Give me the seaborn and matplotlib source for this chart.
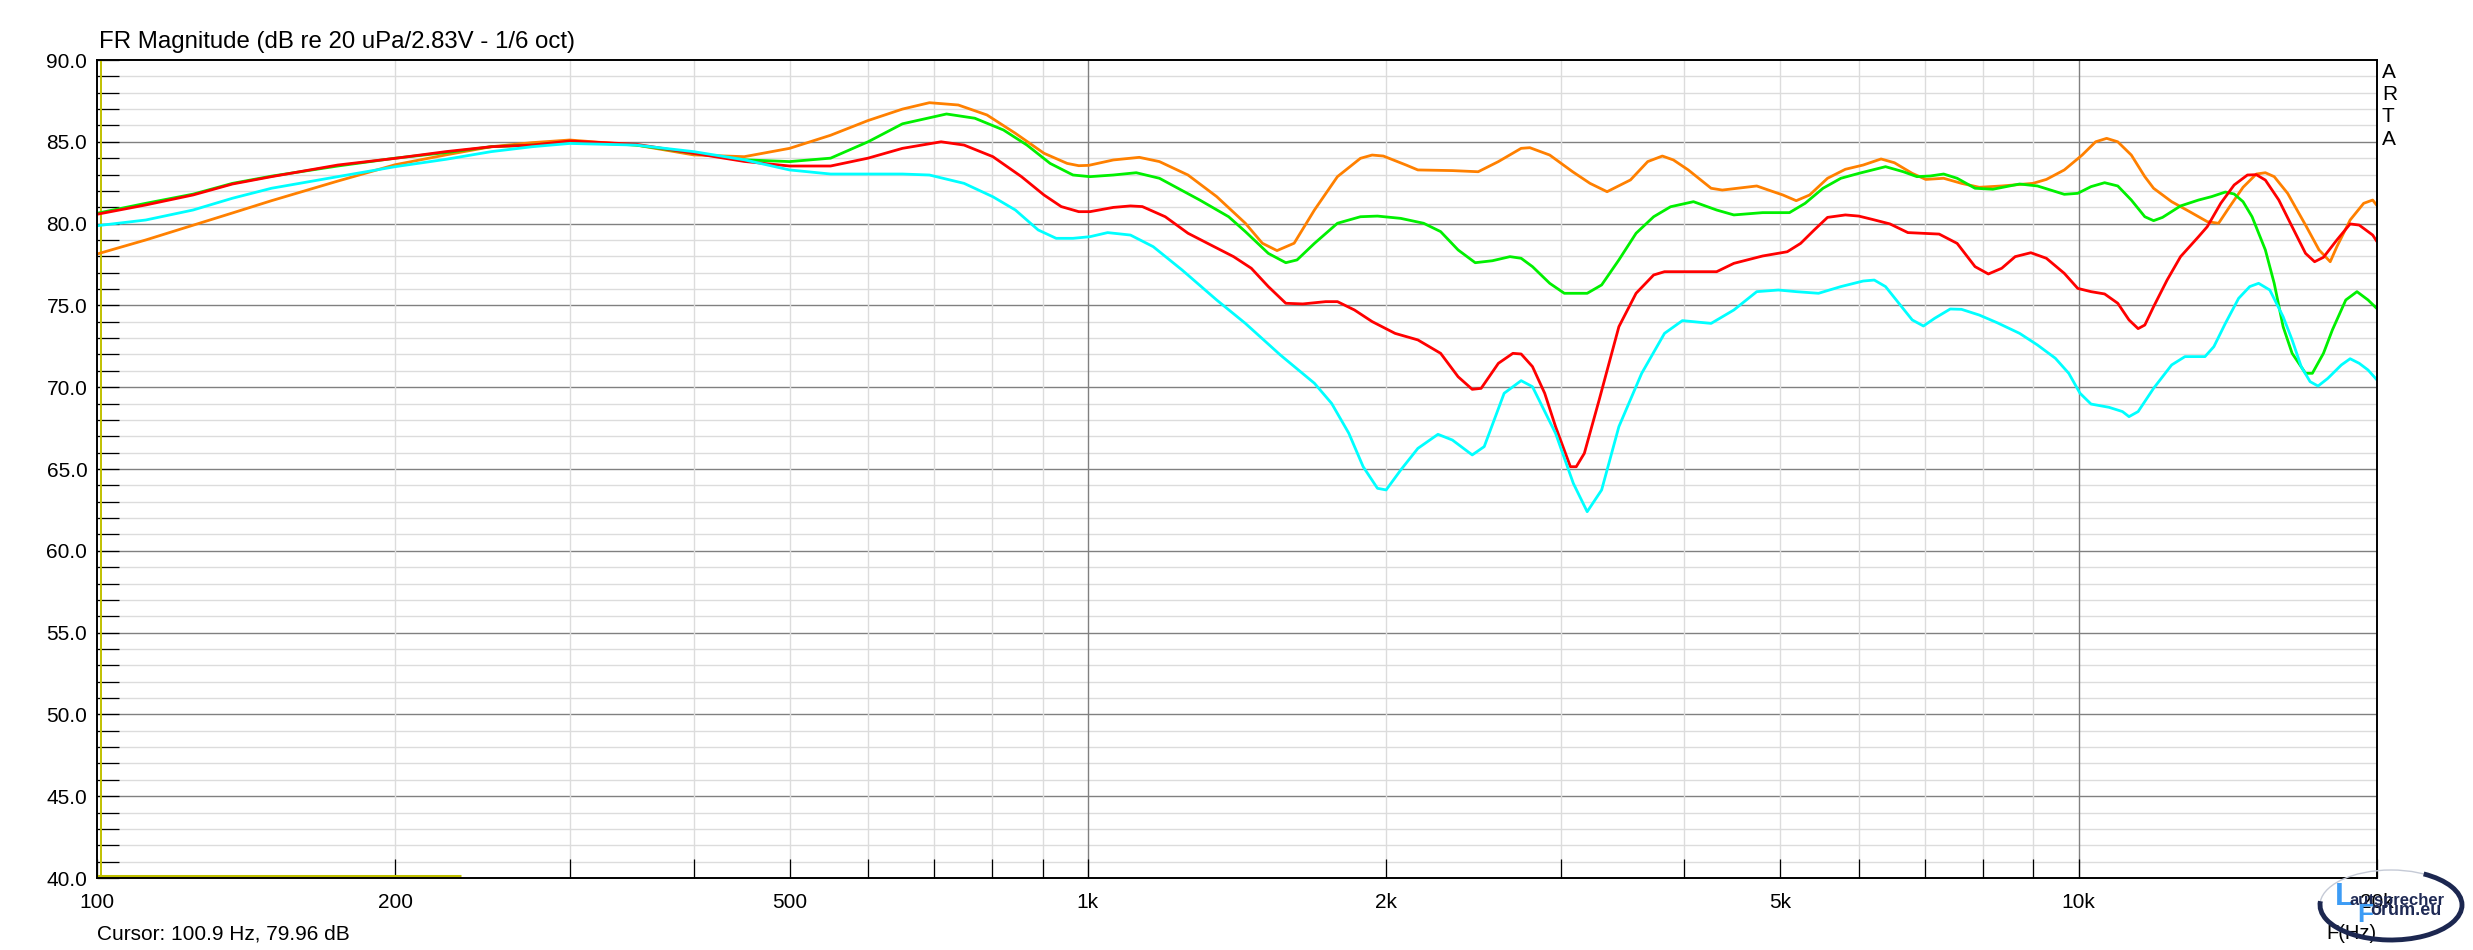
import numpy as np
import pandas as pd
import matplotlib
matplotlib.use("Agg")
import matplotlib.pyplot as plt
import seaborn as sns
from matplotlib.ticker import FixedLocator, NullFormatter, FixedFormatter
from matplotlib.patches import Ellipse, Arc

# ---------------- data ----------------
orange_freq = [100,112,125,137,150,175,200,225,250,275, 300,350,400,450,500, 550,600,650,692,740, 791,845,903,953,979,
               1002,1061,1127,1181,1262, 1349,1442,1500,1552,1615, 1693,1786,1884,1936,1987,
               2095,2153,2333,2477,2596, 2737,2793,2925,3085,3212, 3342,3529,3673,3800,3899,
               4036,4256,4368,4732,4863, 5028,5187,5351,5578,5814, 6060,6317,6516,6792,7009,
               7306,7615,7937,8362,8990, 9276,9670,10080,10400,10670, 10950,11300,11660,11900,12410,
               12940,13480,13840,14200,14650, 15110,15430,15750,16250,16940, 17480,17940,18220,18790,19390,
               19800,20000]
orange_db = [78.14,79.0,79.9,80.65,81.4,82.6,83.6,84.2,84.7,84.95, 85.11,84.8,84.2,84.09,84.6, 85.4,86.3,87.0,87.39,87.25,
             86.64,85.52,84.3,83.68,83.54, 83.56,83.89,84.05,83.79,82.97, 81.65,80.02,78.8,78.35,78.8,
             80.83,82.87,83.99,84.19,84.13, 83.58,83.28,83.24,83.17,83.79, 84.6,84.64,84.19,83.17,82.46,
             81.95,82.67,83.79,84.13,83.89, 83.28,82.16,82.05,82.3,82.05, 81.75,81.4,81.75,82.77,83.32,
             83.58,83.95,83.72,83.07,82.7, 82.77,82.46,82.22,82.3,82.46, 82.7,83.28,84.19,85.0,85.21,
             85.0,84.19,82.87,82.16,81.34, 80.73,80.12,80.02,81.03,82.22, 83.03,83.11,82.87,81.85,79.91,
             78.39,77.67,78.59,80.22,81.24, 81.44,81.1]

green_freq = [100,112,125,137,150,175,200,225,250,275, 300,350,400,450,500, 550,600,650,720,769, 822,868,916,966,1005,
              1061,1119,1181,1297,1387, 1442,1521,1584,1626,1693, 1786,1884,1960,2069,2182,
              2270,2364,2460,2560,2667, 2737,2810,2925,3026,3191, 3300,3435,3575,3724,3873,
              4085,4311,4487,4797,5106, 5295,5520,5754,5998,6383, 6653,6866,7082,7306,7539,
              7859,8190,8717,9086,9670, 9977,10290,10620,10950,11300, 11660,11900,12150,12670,13210,
              13620,14060,14350,14650,14960, 15430,15750,16080,16420,16940, 17210,17660,18030,18600,19090,
              19590,20000]
green_db = [80.63,81.24,81.8,82.46,82.9,83.52,84.0,84.34,84.7,84.8, 85.0,84.8,84.3,83.9,83.79, 84.0,85.0,86.1,86.70,86.44,
            85.72,84.8,83.68,82.97,82.87, 82.97,83.11,82.77,81.44,80.42, 79.51,78.18,77.61,77.78,78.79,
            80.02,80.42,80.46,80.32,80.02, 79.51,78.39,77.61,77.73,77.98, 77.88,77.37,76.35,75.74,75.74,
            76.25,77.78,79.41,80.42,81.03, 81.34,80.83,80.53,80.67,80.67, 81.24,82.16,82.77,83.07,83.48,
            83.17,82.87,82.91,83.03,82.77, 82.16,82.1,82.42,82.3,81.79, 81.85,82.26,82.5,82.3,81.44,
            80.42,80.18,80.38,81.08,81.44, 81.65,81.93,81.81,81.34,80.42, 78.39,76.35,73.7,72.07,70.85,
            70.85,72.07,73.5,75.33,75.84, 75.33,74.8]

red_freq = [100,112,125,137,150,175,200,225,250,275, 300,350,400,450,500, 550,600,650,711,750, 802,857,903,940,979,
            1005,1061,1104,1135,1197, 1262,1331,1403,1462,1521, 1584,1648,1738,1786,1858,
            1936,2042,2153,2270,2364, 2443,2494,2596,2685,2737, 2810,2891,2965,3069,3111,
            3170,3281,3435,3575,3724, 3819,4311,4487,4797,5080, 5240,5406,5578,5814,5998,
            6187,6449,6723,7230,7539, 7859,8106,8362,8627,8947, 9276,9670,9977,10290,10620,
            10950,11240,11480,11660,11900, 12280,12670,13210,13480,13910, 14350,14800,15110,15430,15920,
            16420,16940,17300,17660,18220, 18790,19190,19800,20000]
red_db = [80.57,81.14,81.75,82.42,82.87,83.58,83.99,84.4,84.7,84.8, 85.05,84.85,84.3,83.8,83.52, 83.52,84.0,84.6,85.0,84.8,
          84.09,82.87,81.75,81.04,80.73, 80.73,80.99,81.08,81.04,80.42, 79.41,78.69,77.98,77.27,76.15,
          75.13,75.09,75.23,75.23,74.72, 74.01,73.29,72.89,72.07,70.64, 69.87,69.93,71.46,72.07,72.03,
          71.26,69.63,67.59,65.14,65.14, 65.96,69.22,73.7,75.74,76.86, 77.06,77.06,77.57,78.02,78.28,
          78.79,79.6,80.38,80.53,80.46, 80.26,79.98,79.45,79.36,78.79, 77.37,76.92,77.27,77.98,78.22,
          77.88,76.96,76.04,75.84,75.7, 75.13,74.11,73.58,73.8,74.92, 76.55,77.98,79.2,79.81,81.24,
          82.36,82.97,82.99,82.66,81.44, 79.81,78.18,77.67,77.94,79.0, 79.98,79.91,79.3,78.9]

cyan_freq = [100,112,125,137,150,175,200,225,250,275, 300,350,400,450,500, 550,600,650,692,750, 802,845,891,929,966,
             1005,1047,1104,1164,1245, 1349,1442,1564,1693,1762, 1834,1896,1960,2000,2069,
             2153,2256,2333,2443,2512, 2631,2737,2810,2965,3090, 3191,3300,3435,3622,3819,
             3981,4256,4487,4732,4976, 5187,5463,5754,6060,6218, 6383,6584,6792,6971,7154,
             7419,7615,7937,8275,8717, 9086,9471,9771,10030,10290, 10730,11070,11240,11480,11900,
             12410,12800,13410,13690,14060, 14500,14880,15190,15590,16080, 16420,16770,17120,17440,17840,
             18410,18790,19190,19590,20000]
cyan_db = [79.87,80.22,80.83,81.55,82.16,82.87,83.48,83.93,84.4,84.7, 84.9,84.8,84.4,83.9,83.28, 83.03,83.03,83.03,82.97,82.46,
           81.64,80.83,79.61,79.1,79.1, 79.2,79.45,79.3,78.59,77.16, 75.33,73.9,71.97,70.24,69.01,
           67.18,65.14,63.82,63.72,64.94, 66.26,67.12,66.77,65.86,66.37, 69.63,70.4,70.03,67.18,64.12,
           62.39,63.72,67.59,70.85,73.29, 74.07,73.9,74.72,75.84,75.94, 75.84,75.74,76.15,76.49,76.55,
           76.15,75.13,74.11,73.74,74.21, 74.78,74.76,74.41,73.94,73.29, 72.58,71.77,70.85,69.63,68.97,
           68.77,68.51,68.2,68.51,69.93, 71.36,71.87,71.87,72.48,73.9, 75.43,76.15,76.35,75.94,74.31,
           72.89,71.26,70.34,70.07,70.54, 71.36,71.74,71.46,71.05,70.44]

series_names = ["orange", "green", "red", "cyan"]
series_colors = {"orange": "#ff8000", "green": "#00f000", "red": "#ff0000", "cyan": "#00ffff"}

x_ticks = [100, 200, 500, 1000, 2000, 5000, 10000, 20000]
x_tick_labels = ["100", "200", "500", "1k", "2k", "5k", "10k", "20k"]
x_minor = [300, 400, 600, 700, 800, 900, 3000, 4000, 6000, 7000, 8000, 9000]
y_ticks = [40, 45, 50, 55, 60, 65, 70, 75, 80, 85, 90]
y_tick_labels = ["40.0", "45.0", "50.0", "55.0", "60.0", "65.0", "70.0", "75.0", "80.0", "85.0", "90.0"]

title_text = "FR Magnitude (dB re 20 uPa/2.83V - 1/6 oct)"
cursor_freq = 100.9
cursor_db = 79.96
cursor_text = "Cursor: 100.9 Hz, 79.96 dB"
xlabel_text = "F(Hz)"
brand_letters = ["A", "R", "T", "A"]
marker_freq = [100, 233]
marker_db = [40.15, 40.15]

# ---------------- figure ----------------
sns.set_style("white")
plt.rcParams["font.family"] = ["Liberation Sans", "DejaVu Sans"]

W, H = 2473, 950
fig = plt.figure(figsize=(W / 100, H / 100), dpi=100)
ax = fig.add_axes([97 / W, 1 - 878 / H, (2377 - 97) / W, (878 - 60) / H])

df = pd.concat([
    pd.DataFrame({"freq": orange_freq, "dB": orange_db, "series": "orange"}),
    pd.DataFrame({"freq": green_freq, "dB": green_db, "series": "green"}),
    pd.DataFrame({"freq": red_freq, "dB": red_db, "series": "red"}),
    pd.DataFrame({"freq": cyan_freq, "dB": cyan_db, "series": "cyan"}),
], ignore_index=True)

ax.set_xscale("log")
ax.set_xlim(100, 20000)
ax.set_ylim(40, 90)

# grid
for y in range(41, 90):
    ax.axhline(y, color="#808080" if y % 5 == 0 else "#dcdcdc", lw=1.0, zorder=0.5)
for x in x_ticks[1:-1] + x_minor:
    ax.axvline(x, color="#808080" if x in (1000, 10000) else "#dcdcdc", lw=1.0, zorder=0.5)

# cursor / marker lines
ax.axvline(cursor_freq, color="#c0c000", lw=1.4, zorder=1)
ax.plot(marker_freq, marker_db, color="#c0c000", lw=2.2, zorder=1, solid_capstyle="butt")

sns.lineplot(data=df, x="freq", y="dB", hue="series", hue_order=series_names,
             palette=series_colors, estimator=None, sort=False, legend=False,
             lw=2.0, ax=ax, zorder=3)

ax.set_xlabel("")
ax.set_ylabel("")

ax.xaxis.set_major_locator(FixedLocator(x_ticks))
ax.xaxis.set_major_formatter(FixedFormatter(x_tick_labels))
ax.xaxis.set_minor_locator(FixedLocator(x_minor))
ax.xaxis.set_minor_formatter(NullFormatter())
ax.yaxis.set_major_locator(FixedLocator(y_ticks))
ax.yaxis.set_major_formatter(FixedFormatter(y_tick_labels))
ax.yaxis.set_minor_locator(FixedLocator([v for v in range(41, 90) if v % 5 != 0]))
ax.yaxis.set_minor_formatter(NullFormatter())

ax.tick_params(axis="y", which="both", direction="in", length=15.8, width=0.9, color="black",
               left=True, right=False, pad=7.0, labelsize=15, labelcolor="black")
ax.tick_params(axis="x", which="both", direction="in", length=13.7, width=0.9, color="black",
               bottom=True, top=False, pad=11.0, labelsize=15, labelcolor="black")

for s in ax.spines.values():
    s.set_visible(True)
    s.set_color("black")
    s.set_linewidth(1.4)
    s.set_zorder(5)

# texts
fig.text(99 / W, 1 - 48 / H, title_text, fontsize=17.3, ha="left", va="baseline", color="black")
fig.text(97 / W, 1 - 939 / H, cursor_text, fontsize=15, ha="left", va="baseline", color="black")
fig.text(2377 / W, 1 - 939 / H, xlabel_text, fontsize=14.5, ha="right", va="baseline", color="black")
for i, ch in enumerate(brand_letters):
    fig.text(2382 / W, 1 - (72 + 22.5 * i) / H, ch, fontsize=15, ha="left", va="center", color="black")

# watermark logo
cx, cy, ew, eh = 2391 / W, 1 - 905 / H, 142 / W, 70 / H
fig.add_artist(Ellipse((cx, cy), ew, eh, transform=fig.transFigure, fill=False,
                       edgecolor="#c5cad6", lw=1.0, zorder=10))
fig.add_artist(Arc((cx, cy), ew, eh, theta1=172, theta2=68, transform=fig.transFigure,
                   edgecolor="#1c2750", lw=3.5, zorder=10))
fig.text(2335 / W, 1 - 905 / H, "L", fontsize=23, fontweight="bold", color="#3d9cf5",
         ha="left", va="baseline", zorder=11)
fig.text(2350 / W, 1 - 905 / H, "autsprecher", fontsize=12, fontweight="bold", color="#1f2a55",
         ha="left", va="baseline", zorder=11)
fig.text(2357 / W, 1 - 922 / H, "F", fontsize=19, fontweight="bold", color="#3d9cf5",
         ha="left", va="baseline", zorder=11)
fig.text(2370 / W, 1 - 915 / H, "orum.eu", fontsize=13, fontweight="bold", color="#1f2a55",
         ha="left", va="baseline", zorder=11)

fig.savefig("out.png", dpi=100, facecolor="white")
